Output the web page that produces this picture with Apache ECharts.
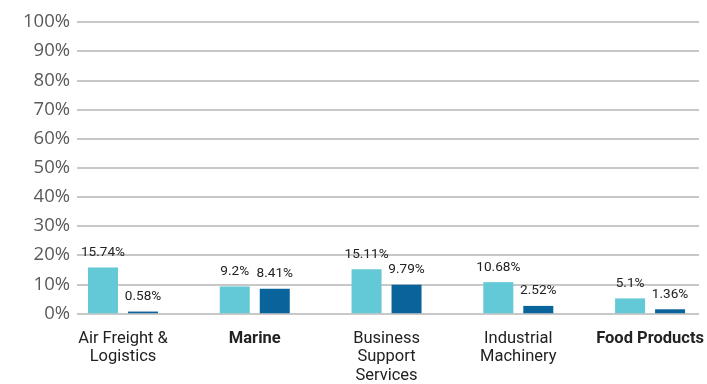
<!DOCTYPE html>
<html>
<head>
<meta charset="utf-8">
<script src="https://cdn.jsdelivr.net/npm/echarts@6/dist/echarts.min.js"></script>
<style>
  html, body { margin: 0; padding: 0; background: #fff; }
  #chart { width: 707px; height: 384px; }
</style>
</head>
<body>
<div id="chart"></div>
<script>
// Industry categories (multi-line names use explicit breaks)
const categories = ['Air Freight &\nLogistics', 'Marine', 'Business\nSupport\nServices', 'Industrial\nMachinery', 'Food Products'];
const boldCategories = ['Marine', 'Food Products'];
// Two comparison series, percent values
const seriesA = [15.74, 9.2, 15.11, 10.68, 5.1];
const seriesB = [0.58, 8.41, 9.79, 2.52, 1.36];
// Y axis scale
const yMin = 0, yMax = 100, yStep = 10;

const colorA = '#64c9d6';
const colorB = '#0a649c';

const plotTop = 22, plotHeight = 291.5;

const chart = echarts.init(document.getElementById('chart'));
chart.setOption({
  animation: false,
  grid: [
    // bar grid: category ticks run from the first to the last group centre
    { left: 123, width: 528, top: plotTop, height: plotHeight },
    // value grid: carries the percent labels and split lines
    { left: 77, right: 8, top: plotTop, height: plotHeight }
  ],
  xAxis: [
    {
      type: 'category', gridIndex: 0, data: categories, boundaryGap: false,
      axisLine: { show: false }, axisTick: { show: false },
      axisLabel: {
        margin: 16, interval: 0,
        formatter: v => boldCategories.includes(v) ? '{b|' + v + '}' : '{n|' + v.split('\n').join('}\n{n|') + '}',
        rich: {
          n: { fontFamily: 'Roboto', fontSize: 16.5, color: '#222', lineHeight: 18.5 },
          b: { fontFamily: 'Roboto', fontSize: 16.5, fontWeight: 'bold', color: '#222', lineHeight: 18.5 }
        }
      }
    },
    { type: 'value', gridIndex: 1, show: false, min: 0, max: 1 }
  ],
  yAxis: [
    { type: 'value', gridIndex: 0, min: yMin, max: yMax, interval: yStep, show: false },
    {
      type: 'value', gridIndex: 1, min: yMin, max: yMax, interval: yStep,
      axisLine: { show: false }, axisTick: { show: false },
      axisLabel: { margin: 7, fontFamily: 'Open Sans', fontSize: 18.5, color: '#5a5a5a', formatter: '{value}%' },
      splitLine: { lineStyle: { color: '#c8c8c8', width: 2 } }
    }
  ],
  series: [
    {
      type: 'bar', xAxisIndex: 0, yAxisIndex: 0, data: seriesA,
      barWidth: 30, barGap: '33.3%',
      itemStyle: { color: colorA },
      label: { show: true, position: 'top', distance: 8, fontFamily: 'Roboto', fontSize: 13.6, color: '#222', formatter: p => p.value + '%' }
    },
    {
      type: 'bar', xAxisIndex: 0, yAxisIndex: 0, data: seriesB,
      barWidth: 30, barGap: '33.3%',
      itemStyle: { color: colorB },
      label: { show: true, position: 'top', distance: 8, fontFamily: 'Roboto', fontSize: 13.6, color: '#222', formatter: p => p.value + '%' }
    }
  ]
});
</script>
</body>
</html>
